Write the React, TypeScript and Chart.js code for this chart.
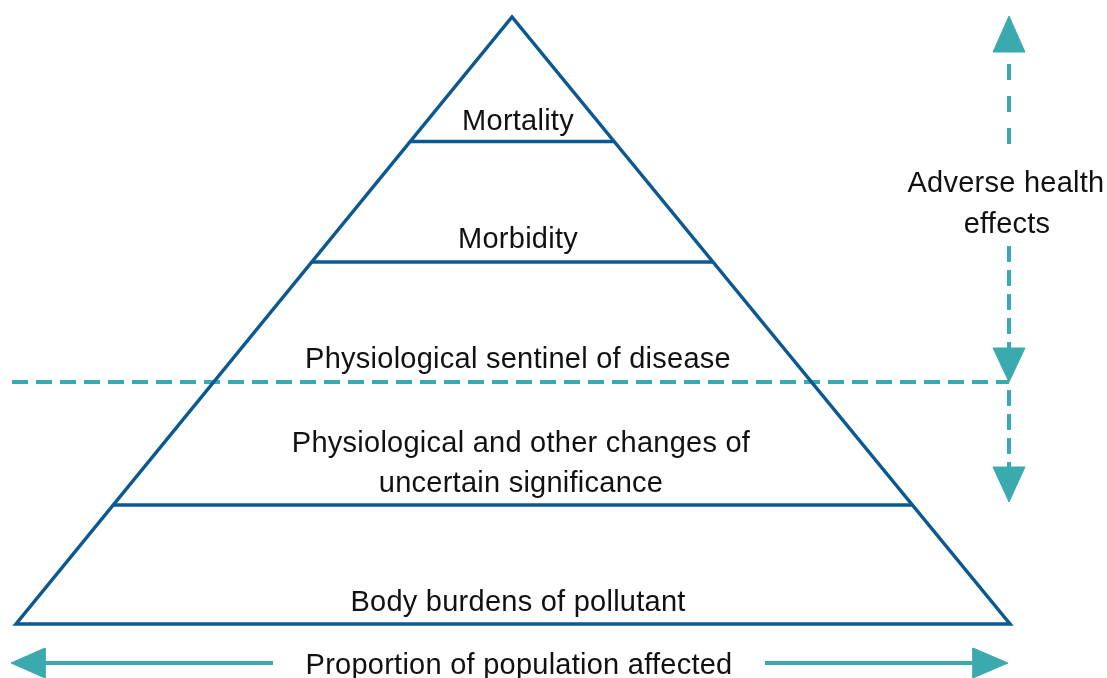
import React, { useEffect, useRef } from "react";
import { Chart, registerables } from "chart.js";

Chart.register(...registerables);

const WIDTH = 1107;
const HEIGHT = 678;

const BLUE = "#0c5891";
const TEAL = "#3baaae";
const TEXT = "#111111";

// Diagram coordinate space (units on the hidden linear scales)
const apex = { x: 512, y: 17 };
const baseLeft = { x: 16, y: 624 };
const baseRight = { x: 1010, y: 624 };
const levelY = [141.5, 262, 505];

const pyramidLabels = [
  "Mortality",
  "Morbidity",
  "Physiological sentinel of disease",
  "Physiological and other changes of",
  "uncertain significance",
  "Body burdens of pollutant",
];
const pyramidLabelX = [518, 518, 518, 521, 521, 518];
const pyramidLabelY = [130, 248, 368, 452, 492, 611];

const sideLabels = ["Adverse health", "effects", "Proportion of population affected"];
const sideLabelX = [1006, 1007, 519];
const sideLabelY = [192, 233, 674];

// threshold line
const thresholdY = 382;
const thresholdX = [12, 1009];

// vertical adverse-effects axis
const axisX = 1009;
const axisUpper = [64, 145];
const axisMiddle = [246, 350];
const axisLower = [382, 467];
const arrowUp = { tip: 16, base: 52 };
const arrowDown1 = { tip: 382, base: 348 };
const arrowDown2 = { tip: 502, base: 467 };
const arrowHalf = 16;

// horizontal population axis
const popY = 663;
const popLeftLine = [45, 273];
const popRightLine = [765, 973];
const popLeftArrow = { tip: 11, base: 45 };
const popRightArrow = { tip: 1008, base: 973 };
const popArrowHalf = 15;

function edgeX(y: number, side: number) {
  const t = (y - apex.y) / (baseLeft.y - apex.y);
  const b = side < 0 ? baseLeft.x : baseRight.x;
  return apex.x + (b - apex.x) * t;
}

function line(points: { x: number; y: number }[], color: string, width: number, dash: number[] = []) {
  return {
    data: points,
    showLine: true,
    borderColor: color,
    borderWidth: width,
    borderDash: dash,
    borderCapStyle: "butt",
    borderJoinStyle: "miter",
    pointRadius: 0,
    fill: false,
    tension: 0,
  };
}

function polygon(points: { x: number; y: number }[], color: string) {
  return {
    data: points,
    showLine: true,
    borderColor: color,
    borderWidth: 1,
    backgroundColor: color,
    pointRadius: 0,
    fill: "shape",
    tension: 0,
  };
}

const labelPlugin = {
  id: "diagramLabels",
  afterDatasetsDraw(chart: any) {
    const { ctx, scales } = chart;
    ctx.save();
    ctx.fillStyle = TEXT;
    ctx.font = "29px 'Liberation Sans', Arial, sans-serif";
    (ctx as any).letterSpacing = "0.25px";
    ctx.textAlign = "center";
    ctx.textBaseline = "alphabetic";
    pyramidLabels.forEach((t, i) => {
      ctx.fillText(t, scales.x.getPixelForValue(pyramidLabelX[i]), scales.y.getPixelForValue(pyramidLabelY[i]));
    });
    sideLabels.forEach((t, i) => {
      ctx.fillText(t, scales.x.getPixelForValue(sideLabelX[i]), scales.y.getPixelForValue(sideLabelY[i]));
    });
    ctx.restore();
  },
};

export default function App() {
  const ref = useRef<HTMLCanvasElement | null>(null);

  useEffect(() => {
    document.body.style.margin = "0";
    if (!ref.current) return;

    const datasets: any[] = [];

    // pyramid outline
    datasets.push(line([apex, baseRight, baseLeft, apex, baseRight], BLUE, 3.5));
    // level lines
    levelY.forEach((y) => {
      datasets.push(line([{ x: edgeX(y, -1), y }, { x: edgeX(y, 1), y }], BLUE, 3.5));
    });
    // threshold dashed line
    datasets.push(
      line([{ x: thresholdX[0], y: thresholdY }, { x: thresholdX[1], y: thresholdY }], TEAL, 4, [16, 8])
    );
    // vertical dashed axis
    datasets.push(line([{ x: axisX, y: axisUpper[0] }, { x: axisX, y: axisUpper[1] }], TEAL, 4, [16, 16]));
    datasets.push(line([{ x: axisX, y: axisMiddle[0] }, { x: axisX, y: axisMiddle[1] }], TEAL, 4, [16, 8]));
    datasets.push(line([{ x: axisX, y: axisLower[0] + 8 }, { x: axisX, y: axisLower[1] }], TEAL, 4, [16, 8]));
    // vertical arrowheads
    [arrowUp, arrowDown1, arrowDown2].forEach((a) => {
      datasets.push(
        polygon(
          [
            { x: axisX, y: a.tip },
            { x: axisX + arrowHalf, y: a.base },
            { x: axisX - arrowHalf, y: a.base },
            { x: axisX, y: a.tip },
          ],
          TEAL
        )
      );
    });
    // population axis
    datasets.push(line([{ x: popLeftLine[0], y: popY }, { x: popLeftLine[1], y: popY }], TEAL, 4));
    datasets.push(line([{ x: popRightLine[0], y: popY }, { x: popRightLine[1], y: popY }], TEAL, 4));
    [popLeftArrow, popRightArrow].forEach((a) => {
      datasets.push(
        polygon(
          [
            { x: a.tip, y: popY },
            { x: a.base, y: popY - popArrowHalf },
            { x: a.base, y: popY + popArrowHalf },
            { x: a.tip, y: popY },
          ],
          TEAL
        )
      );
    });

    const chart = new Chart(ref.current, {
      type: "scatter",
      data: { datasets },
      options: {
        animation: false,
        responsive: false,
        events: [],
        layout: { padding: 0 },
        plugins: {
          legend: { display: false },
          tooltip: { enabled: false },
        },
        scales: {
          x: { type: "linear", min: 0, max: WIDTH, display: false },
          y: { type: "linear", min: 0, max: HEIGHT, reverse: true, display: false },
        },
      } as any,
      plugins: [labelPlugin],
    });

    return () => chart.destroy();
  }, []);

  return (
    <div style={{ width: WIDTH, height: HEIGHT, background: "#ffffff" }}>
      <canvas ref={ref} width={WIDTH} height={HEIGHT} style={{ display: "block" }} />
    </div>
  );
}
